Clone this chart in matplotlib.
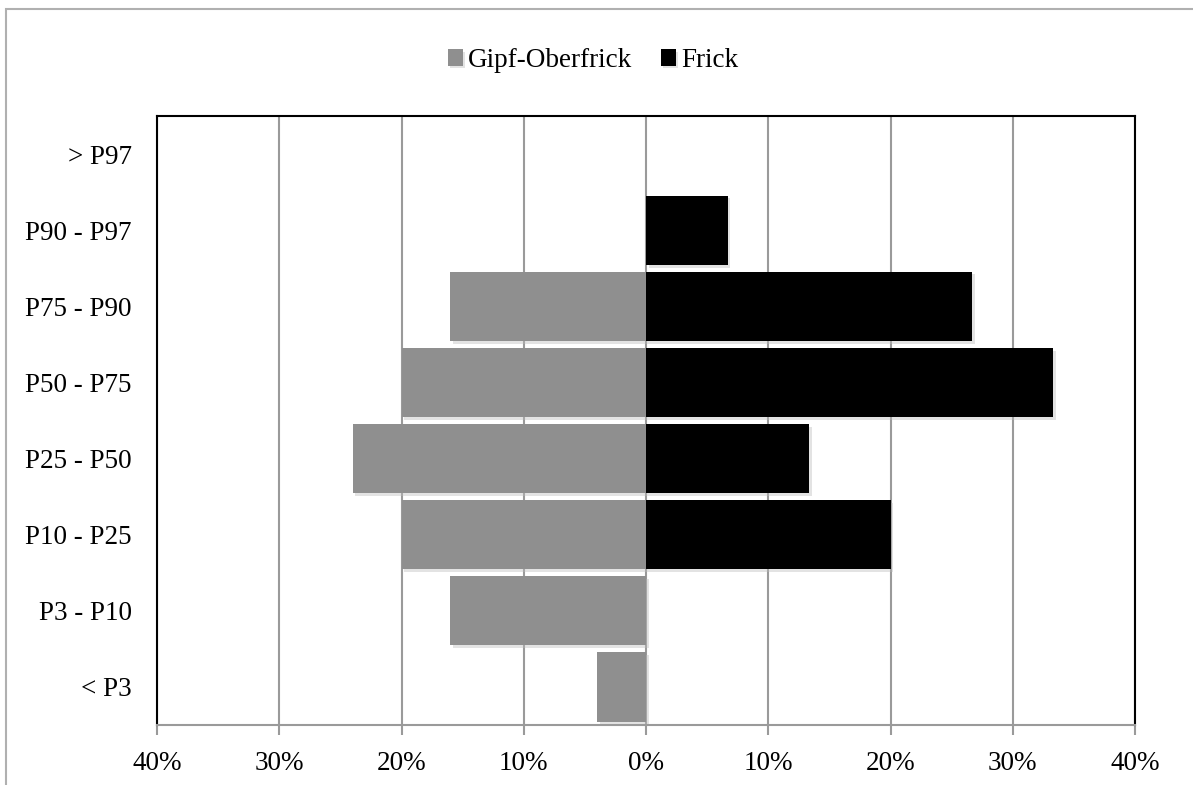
import matplotlib.pyplot as plt
from matplotlib.patches import Rectangle
import matplotlib.patheffects as pe

plt.rcParams['font.family'] = ['Liberation Serif', 'DejaVu Serif']

# percentile classes, bottom to top
categories = ['< P3', 'P3 - P10', 'P10 - P25', 'P25 - P50',
              'P50 - P75', 'P75 - P90', 'P90 - P97', '> P97']
gipf_oberfrick = [4, 16, 20, 24, 20, 16, 0, 0]
frick = [0, 0, 20, 13.33, 33.33, 26.67, 6.67, 0]
xticks = [-40, -30, -20, -10, 0, 10, 20, 30, 40]
xtick_labels = ['40%', '30%', '20%', '10%', '0%', '10%', '20%', '30%', '40%']

fig = plt.figure(figsize=(11.93, 7.85), dpi=100)
ax = fig.add_axes([0.1316, 0.0764, 0.8198, 0.7758])

# outer chart frame (runs off the right and bottom edges)
fig.patches.append(Rectangle((6 / 1193, -0.05), 1.2, 1 - 9 / 785 + 0.05,
                             transform=fig.transFigure, fill=False,
                             edgecolor='#b0b0b0', linewidth=1.5))

shadow = [pe.SimplePatchShadow(offset=(2, -2), shadow_rgbFace='#bbbbbb', alpha=0.4), pe.Normal()]
y = range(len(categories))
ax.barh(y, [-v for v in gipf_oberfrick], height=0.91, color='#8f8f8f',
        label='Gipf-Oberfrick', zorder=3, path_effects=shadow)
ax.barh(y, frick, height=0.91, color='black', label='Frick', zorder=3,
        path_effects=shadow)

ax.set_xlim(-40, 40)
ax.set_ylim(-0.5, len(categories) - 0.5)
ax.set_xticks(xticks)
ax.set_xticklabels(xtick_labels)
ax.set_yticks(list(y))
ax.set_yticklabels(categories)
ax.tick_params(axis='y', length=0, pad=18, labelsize=19.5)
ax.tick_params(axis='x', length=7, width=1.5, color='#9a9a9a', pad=12, labelsize=19.5)
ax.xaxis.grid(True, color='#9a9a9a', linewidth=1.5, zorder=0)
ax.set_axisbelow(True)

for side in ['left', 'top', 'right']:
    ax.spines[side].set_linewidth(1.5)
    ax.spines[side].set_color('black')
ax.spines['bottom'].set_linewidth(1.5)
ax.spines['bottom'].set_color('#9a9a9a')

fig.legend(loc='center', bbox_to_anchor=(0.497, 0.923), ncol=2, frameon=False,
           fontsize=19.5, handlelength=0.55, handleheight=0.55, handletextpad=0.2,
           columnspacing=1.05)

fig.savefig('out.png', dpi=100)
